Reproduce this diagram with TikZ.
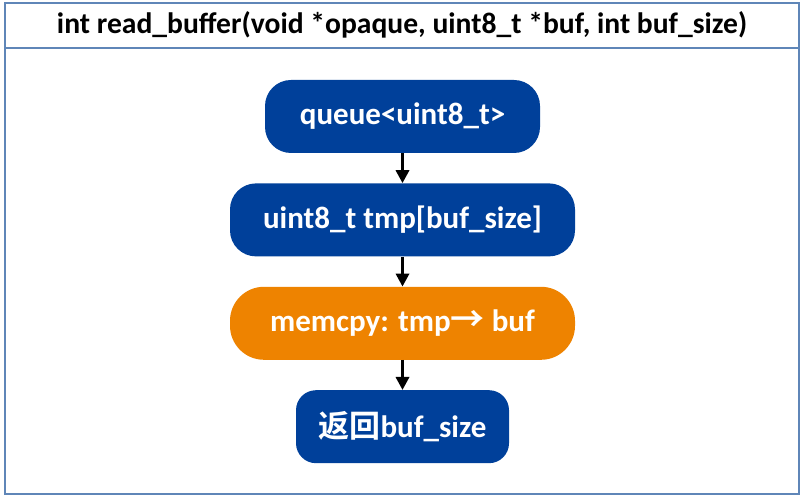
\documentclass[tikz,border=0pt]{standalone}
\usepackage{fontspec}
\setmainfont{Carlito}
\newfontfamily\cjk{Noto Sans CJK SC}[BoldFont={Noto Sans CJK SC Bold}]
\usetikzlibrary{arrows.meta,positioning}
\definecolor{Bc}{HTML}{00409A}
\definecolor{Oc}{HTML}{EE8300}
\definecolor{Fc}{HTML}{5F86B8}
\tikzset{
  frame/.style={draw=Fc, line width=1.2pt},
  stepbox/.style={rectangle, rounded corners=26pt, fill=Bc, text=white,
    font=\bfseries\fontsize{31}{36}\selectfont, minimum height=73pt, inner sep=0pt},
  copybox/.style={stepbox, fill=Oc, rounded corners=34pt},
  flow/.style={-{Triangle[length=13pt,width=13pt]}, line width=3.2pt},
}

\begin{document}
\begin{tikzpicture}[x=1pt,y=1pt]
  \useasboundingbox (0,0) rectangle (805,503);
  % outer frame with header
  \draw[frame] (5,9) rectangle (799,500);
  \draw[frame] (5,455) -- (799,455);
  \node[font=\bfseries\fontsize{29.6}{34}\selectfont] (head) at (402,478)
    {int read\_buffer(void *opaque, uint8\_t *buf, int buf\_size)};
  % steps
  \node[stepbox, minimum width=275pt] (que) at (402.5,386.5) {queue<uint8\_t>};
  \node[stepbox, minimum width=345pt, below=30pt of que] (tmp) {uint8\_t tmp[buf\_size]};
  \node[copybox, minimum width=345pt, below=30pt of tmp] (cpy) {memcpy: tmp{\cjk\fontsize{34}{36}\selectfont →} buf};
  \node[stepbox, rounded corners=20pt, minimum width=213pt, below=30pt of cpy] (ret) {{\cjk\bfseries 返回}buf\_size};
  \draw[flow] (que) -- (tmp);
  \draw[flow] (tmp) -- (cpy);
  \draw[flow] (cpy) -- (ret);
\end{tikzpicture}
\end{document}
